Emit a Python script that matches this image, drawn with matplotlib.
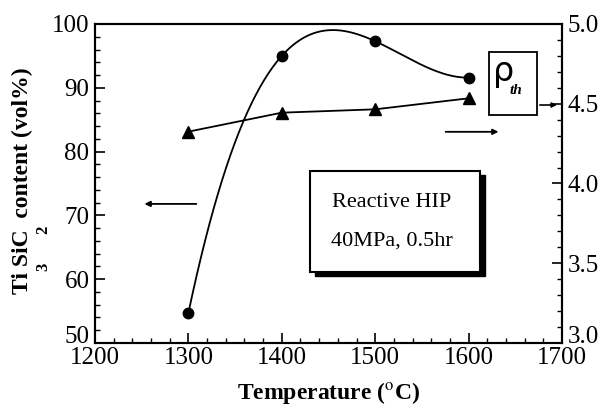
import numpy as np
import matplotlib.pyplot as plt
import matplotlib.transforms as mtransforms
from matplotlib.patches import Rectangle

# data
temperature = [1300, 1400, 1500, 1600]
ti3sic2_content = [54.7, 95.0, 97.3, 91.6]   # vol%, left axis
rho_th = [4.325, 4.444, 4.465, 4.534]         # right axis

plt.rcParams["font.family"] = ["Liberation Serif", "DejaVu Serif"]
plt.rcParams["mathtext.fontset"] = "stix"


def smooth_curve(x, y):
    coef = np.polyfit(x, y, len(x) - 1)
    xs = np.linspace(min(x), max(x), 200)
    return xs, np.polyval(coef, xs)


def plot():
    fig = plt.figure(figsize=(6.03, 4.15), dpi=100)
    ax = fig.add_axes([0.1575, 0.1735, 0.7745, 0.7687])
    ax2 = ax.twinx()

    xs, ys = smooth_curve(temperature, ti3sic2_content)
    ax.plot(xs, ys, color="black", lw=1.3)
    ax.plot(temperature, ti3sic2_content, "o", color="black", ms=7.5)

    ax2.plot(temperature, rho_th, "^-", color="black", lw=1.3, ms=8)

    ax.set_xlim(1200, 1700)
    ax.set_ylim(50, 100)
    ax2.set_ylim(3.0, 5.0)
    ax.set_xticks(np.arange(1200, 1701, 100))
    ax.set_xticks(np.arange(1200, 1701, 20), minor=True)
    ax.set_yticks(np.arange(50, 101, 10))
    ax.set_yticks(np.arange(50, 101, 2), minor=True)
    ax2.set_yticks(np.arange(3.0, 5.01, 0.5))
    ax2.set_yticks(np.arange(3.0, 5.01, 0.1), minor=True)
    ax2.yaxis.set_major_formatter(plt.FormatStrFormatter("%.1f"))

    for a in (ax, ax2):
        a.tick_params(which="major", direction="in", length=7, width=1.2,
                      labelsize=18, pad=4)
        a.tick_params(which="minor", direction="in", length=3.5, width=1.0)
        for s in a.spines.values():
            s.set_linewidth(1.5)
    ax.tick_params(axis="x", pad=3)

    # lowest y labels sit raised above the corner, as in the original
    lift = mtransforms.ScaledTranslation(0, 6 / 72, fig.dpi_scale_trans)
    for a in (ax, ax2):
        lab = a.yaxis.get_major_ticks()[0]
        lab.label1.set_transform(lab.label1.get_transform() + lift)
        lab.label2.set_transform(lab.label2.get_transform() + lift)

    ax.set_xlabel("Temperature ($^{\\mathrm{o}}$C)", fontsize=17,
                  fontweight="bold", labelpad=8)

    # y label with loose subscripts like the original
    fig.text(0.038, 0.565, "Ti SiC  content (vol%)", rotation=90,
             fontsize=17, fontweight="bold", ha="center", va="center")
    fig.text(0.071, 0.357, "3", rotation=90, fontsize=12,
             fontweight="bold", ha="center", va="center")
    fig.text(0.071, 0.446, "2", rotation=90, fontsize=12,
             fontweight="bold", ha="center", va="center")

    # arrows pointing to the axes
    ax.annotate("", xy=(0.1, 0.436), xytext=(0.223, 0.436),
                xycoords="axes fraction",
                arrowprops=dict(arrowstyle="-|>", color="black", lw=1.3,
                                mutation_scale=8))
    ax.annotate("", xy=(0.87, 0.662), xytext=(0.745, 0.662),
                xycoords="axes fraction",
                arrowprops=dict(arrowstyle="-|>", color="black", lw=1.3,
                                mutation_scale=8))
    ax.annotate("", xy=(0.995, 0.746), xytext=(0.9465, 0.746),
                xycoords="axes fraction",
                arrowprops=dict(arrowstyle="-|>", color="black", lw=1.2,
                                mutation_scale=7))

    # rho_th box
    ax2.add_patch(Rectangle((0.8437, 0.7147), 0.1028, 0.1973,
                            transform=ax2.transAxes, fill=False,
                            ec="black", lw=1.3, zorder=5))
    ax2.text(0.874, 0.85, "\u03c1", transform=ax2.transAxes, fontsize=24,
             ha="center", va="center", family="DejaVu Sans")
    ax2.text(0.902, 0.79, "th", transform=ax2.transAxes, fontsize=11,
             style="italic", fontweight="bold", ha="center", va="center")

    # Reactive HIP box with shadow
    ax2.add_patch(Rectangle((0.4604 + 0.011, 0.2226 - 0.013), 0.364, 0.3164,
                            transform=ax2.transAxes, fc="black",
                            ec="black", zorder=4))
    ax2.add_patch(Rectangle((0.4604, 0.2226), 0.364, 0.3164,
                            transform=ax2.transAxes, fc="white",
                            ec="black", lw=1.5, zorder=5))
    ax2.text(0.636, 0.44, "Reactive HIP", transform=ax2.transAxes,
             fontsize=16, ha="center", va="center", zorder=6)
    ax2.text(0.636, 0.32, "40MPa, 0.5hr", transform=ax2.transAxes,
             fontsize=16, ha="center", va="center", zorder=6)

    fig.savefig("out.png", dpi=100)


if __name__ == "__main__":
    plot()
